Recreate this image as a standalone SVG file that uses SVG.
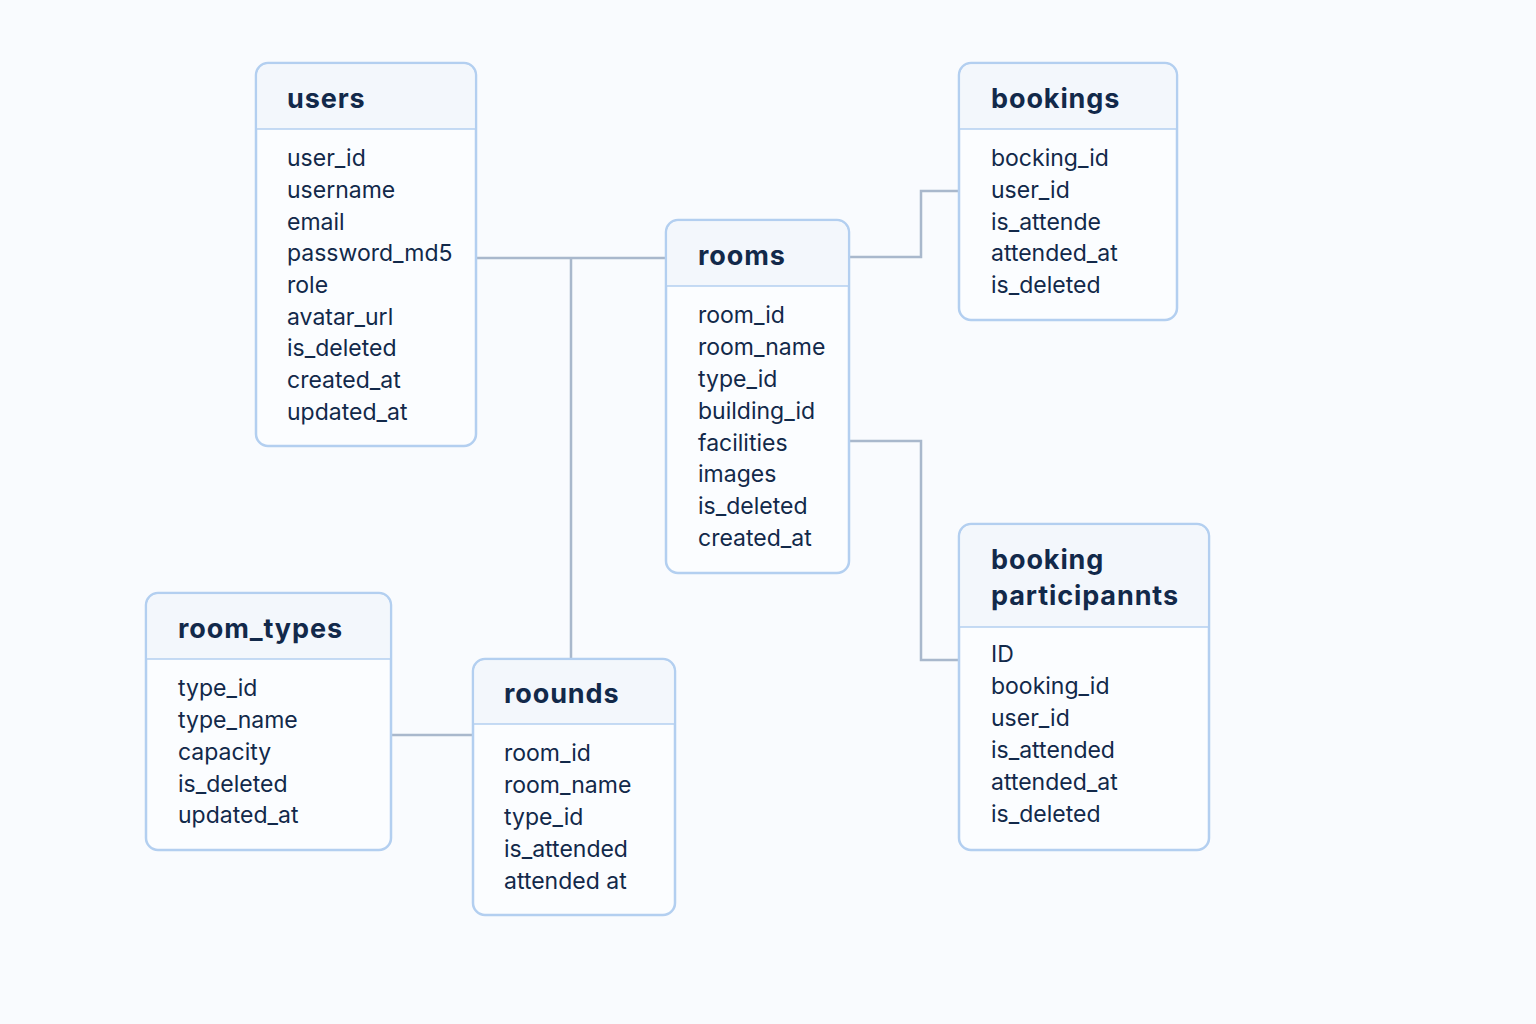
<svg xmlns="http://www.w3.org/2000/svg" width="1536" height="1024" viewBox="0 0 1536 1024">
<style>
.box{fill:#fbfdff;stroke:#b3cff0;stroke-width:2.5}
.hdr{fill:#f3f7fc}
.div{stroke:#b3cff0;stroke-width:1.5}
.title{font-family:Inter,"Noto Sans",sans-serif;font-weight:700;font-size:27px;fill:#12294a;letter-spacing:0.9px}
.row{font-family:Inter,"Noto Sans",sans-serif;font-size:23px;fill:#12294a}
.conn{fill:none;stroke:#a9b8cc;stroke-width:2.5}
</style>
<rect width="1536" height="1024" fill="#f9fbfe"/>
<g id="connectors">
<path class="conn" d="M476 258 H666"/>
<path class="conn" d="M571 258 V659"/>
<path class="conn" d="M849 257 H921 V191 H959"/>
<path class="conn" d="M849 441 H921 V660 H959"/>
<path class="conn" d="M391 735 H473"/>
</g>
<g id="users">
<rect class="box" x="256" y="63" width="220" height="383" rx="12"/>
<path class="hdr" d="M268 64.5 H464 A10.5 10.5 0 0 1 474.5 75 V129 H257.5 V75 A10.5 10.5 0 0 1 268 64.5 Z"/>
<line class="div" x1="257" y1="129" x2="475" y2="129"/>
<text class="title" x="287" y="108">users</text>
<text class="row" x="287" y="166">user_id</text>
<text class="row" x="287" y="198">username</text>
<text class="row" x="287" y="230">email</text>
<text class="row" x="287" y="261">password_md5</text>
<text class="row" x="287" y="293">role</text>
<text class="row" x="287" y="325">avatar_url</text>
<text class="row" x="287" y="356">is_deleted</text>
<text class="row" x="287" y="388">created_at</text>
<text class="row" x="287" y="420">updated_at</text>
</g>
<g id="rooms">
<rect class="box" x="666" y="220" width="183" height="353" rx="12"/>
<path class="hdr" d="M678 221.5 H837 A10.5 10.5 0 0 1 847.5 232 V286 H667.5 V232 A10.5 10.5 0 0 1 678 221.5 Z"/>
<line class="div" x1="667" y1="286" x2="848" y2="286"/>
<text class="title" x="698" y="265">rooms</text>
<text class="row" x="698" y="323">room_id</text>
<text class="row" x="698" y="355">room_name</text>
<text class="row" x="698" y="387">type_id</text>
<text class="row" x="698" y="419">building_id</text>
<text class="row" x="698" y="451">facilities</text>
<text class="row" x="698" y="482">images</text>
<text class="row" x="698" y="514">is_deleted</text>
<text class="row" x="698" y="546">created_at</text>
</g>
<g id="bookings">
<rect class="box" x="959" y="63" width="218" height="257" rx="12"/>
<path class="hdr" d="M971 64.5 H1165 A10.5 10.5 0 0 1 1175.5 75 V129 H960.5 V75 A10.5 10.5 0 0 1 971 64.5 Z"/>
<line class="div" x1="960" y1="129" x2="1176" y2="129"/>
<text class="title" x="991" y="108">bookings</text>
<text class="row" x="991" y="166">bocking_id</text>
<text class="row" x="991" y="198">user_id</text>
<text class="row" x="991" y="230">is_attende</text>
<text class="row" x="991" y="261">attended_at</text>
<text class="row" x="991" y="293">is_deleted</text>
</g>
<g id="booking_participants">
<rect class="box" x="959" y="524" width="250" height="326" rx="12"/>
<path class="hdr" d="M971 525.5 H1197 A10.5 10.5 0 0 1 1207.5 536 V627 H960.5 V536 A10.5 10.5 0 0 1 971 525.5 Z"/>
<line class="div" x1="960" y1="627" x2="1208" y2="627"/>
<text class="title" x="991" y="569">booking</text>
<text class="title" x="991" y="605">participannts</text>
<text class="row" x="991" y="662">ID</text>
<text class="row" x="991" y="694">booking_id</text>
<text class="row" x="991" y="726">user_id</text>
<text class="row" x="991" y="758">is_attended</text>
<text class="row" x="991" y="790">attended_at</text>
<text class="row" x="991" y="822">is_deleted</text>
</g>
<g id="room_types">
<rect class="box" x="146" y="593" width="245" height="257" rx="12"/>
<path class="hdr" d="M158 594.5 H379 A10.5 10.5 0 0 1 389.5 605 V659 H147.5 V605 A10.5 10.5 0 0 1 158 594.5 Z"/>
<line class="div" x1="147" y1="659" x2="390" y2="659"/>
<text class="title" x="178" y="638">room_types</text>
<text class="row" x="178" y="696">type_id</text>
<text class="row" x="178" y="728">type_name</text>
<text class="row" x="178" y="760">capacity</text>
<text class="row" x="178" y="792">is_deleted</text>
<text class="row" x="178" y="823">updated_at</text>
</g>
<g id="roounds">
<rect class="box" x="473" y="659" width="202" height="256" rx="12"/>
<path class="hdr" d="M485 660.5 H663 A10.5 10.5 0 0 1 673.5 671 V724 H474.5 V671 A10.5 10.5 0 0 1 485 660.5 Z"/>
<line class="div" x1="474" y1="724" x2="674" y2="724"/>
<text class="title" x="504" y="703">roounds</text>
<text class="row" x="504" y="761">room_id</text>
<text class="row" x="504" y="793">room_name</text>
<text class="row" x="504" y="825">type_id</text>
<text class="row" x="504" y="857">is_attended</text>
<text class="row" x="504" y="889">attended at</text>
</g>
</svg>
